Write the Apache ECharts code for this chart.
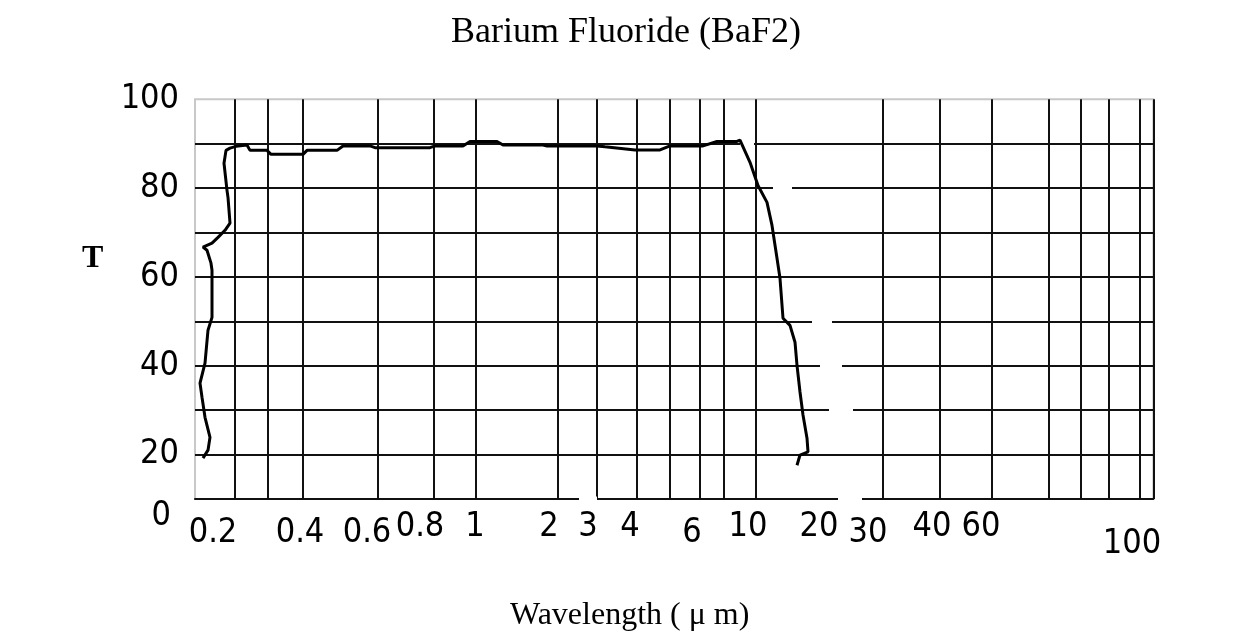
<!DOCTYPE html>
<html><head><meta charset="utf-8">
<script src="https://cdn.jsdelivr.net/npm/echarts@6/dist/echarts.min.js"></script>
<style>html,body{margin:0;padding:0;background:#fff}#c{width:1233px;height:638px}</style>
</head><body><div id="c"></div>
<script>
// The scanned wavelength axis is non-uniform: positions are in chart-scale units (0 = left edge).
const xGridLines = [40, 72.7, 107.3, 182.3, 238.3, 280.3, 362.3, 402, 441.7, 474.3, 505, 528.3, 561, 687.3, 745, 796.7, 853.3, 885.7, 914, 944.3, 958.3];
const xTickPos  = [18, 105, 172, 225, 280, 354, 393, 435, 497, 553, 624, 673, 737, 786, 937];
const xTickText = ['0.2','0.4','0.6','0.8','1','2','3','4','6','10','20','30','40','60','100'];
const yGridLines = [10, 20, 30, 40, 50, 60, 70, 80, 90];
const yTickVals = [100, 80, 60, 40, 20];
const yTickText = ['100', '80', '60', '40', '20'];
const yZeroVal = [10];
const yZeroText = ['0'];
// transmission curve (scale position, T %)
const curveX = [8,13,15,10,7,5,10,13,17,17,16,12,8,17,23,30,35,33,32,29,31,35,41,
  52,55,72,76,108,112,142,148,175,180,235,240,268,275,302,308,348,352,402,410,440,465,475,508,522,542,545,
  555,563,572,577,582,585,588,595,600,602,605,608,612,613,605,602];
const curveT = [19.2,21.0,23.9,28.4,32.9,36.1,40.6,48.0,50.9,61.5,63.1,66.0,66.7,67.6,68.9,70.5,72.1,77.9,79.5,85.6,88.5,89.0,89.4,
  89.7,88.5,88.5,87.6,87.6,88.5,88.5,89.5,89.5,89.1,89.1,89.5,89.5,90.5,90.5,89.7,89.7,89.5,89.5,89.3,88.6,88.6,89.5,89.5,90.5,90.5,90.8,
  85.8,80.6,76.8,71.6,64.2,59.7,50.7,49.1,45.3,40.1,34.1,28.9,23.7,20.6,19.9,17.6];
// breaks in the scanned grid lines: [level T, from, to]
const gridGapLevel = [90, 80, 50, 40, 30, 10, 10];
const gridGapFrom  = [545, 578, 617, 625, 634, 384, 643];
const gridGapTo    = [559, 597, 637, 647, 658, 402, 667];

// label rows (style only: vertical placement of each label in the scan)
const rowOf = {'0.2':1,'0.4':1,'0.6':1,'6':1,'30':1,'100':2};
const rowMargin = [11, 17, 28];
const labelFont = "'Liberation Sans Narrow','DejaVu Sans Condensed','Liberation Sans',sans-serif";
const serif = "'Liberation Serif','Times New Roman',serif";

const xMin = 0, xMax = 958.3;
function xAxisFor(row) {
  const vals = xTickPos.filter((p, i) => (rowOf[xTickText[i]] || 0) === row);
  return {
    type: 'value', min: xMin, max: xMax, position: 'bottom', offset: 0,
    axisLine: { show: row === 0, onZero: false, lineStyle: { color: '#111', width: 2 } },
    axisTick: { show: false, customValues: row === 0 ? xGridLines : vals },
    splitLine: { show: row === 0, lineStyle: { color: '#111', width: 2 } },
    axisLabel: {
      customValues: vals, margin: rowMargin[row], color: '#000',
      fontFamily: labelFont, fontSize: 34,
      formatter: v => xTickText[xTickPos.indexOf(v)]
    }
  };
}

const gapData = [];
gridGapLevel.forEach((t, i) => {
  gapData.push([gridGapFrom[i], t], [gridGapTo[i], t], [null, null]);
});

const chart = echarts.init(document.getElementById('c'));
chart.setOption({
  animation: false,
  backgroundColor: '#fff',
  title: [
    { text: 'Barium Fluoride (BaF2)', left: 446, top: 10,
      textStyle: { fontFamily: serif, fontSize: 36, fontWeight: 'normal', color: '#000' } },
    { text: 'T', left: 77, top: 238,
      textStyle: { fontFamily: serif, fontSize: 32, fontWeight: 'bold', color: '#000' } },
    { text: 'Wavelength ( \u03bc m)', left: 505, top: 595,
      textStyle: { fontFamily: serif, fontSize: 32, fontWeight: 'normal', color: '#000' } }
  ],
  grid: { left: 195, right: 1233 - 1153.3, top: 99.3, bottom: 638 - 499, show: true, borderColor: '#c8c8c8', borderWidth: 2 },
  xAxis: [xAxisFor(0), xAxisFor(1), xAxisFor(2)],
  yAxis: [
    { type: 'value', min: 10, max: 100,
      axisLine: { show: false }, axisTick: { show: false, customValues: yGridLines },
      splitLine: { show: true, lineStyle: { color: '#111', width: 2 } },
      axisLabel: { customValues: yTickVals, margin: 16, color: '#000', fontFamily: labelFont, fontSize: 34,
        formatter: v => yTickText[yTickVals.indexOf(v)] } },
    { type: 'value', min: 10, max: 100, position: 'left',
      axisLine: { show: false }, axisTick: { show: false }, splitLine: { show: false },
      axisLabel: { customValues: yZeroVal, margin: 24, color: '#000', fontFamily: labelFont, fontSize: 34, verticalAlign: 'top',
        formatter: v => yZeroText[yZeroVal.indexOf(v)] } }
  ],
  series: [
    { type: 'line', xAxisIndex: 0, yAxisIndex: 0, data: gapData, connectNulls: false,
      symbol: 'none', clip: false, silent: true, z: 3,
      lineStyle: { color: '#fff', width: 5, cap: 'butt' } },
    { type: 'line', xAxisIndex: 0, yAxisIndex: 0, z: 5,
      data: curveX.map((x, i) => [x, curveT[i]]),
      symbol: 'none', smooth: false,
      lineStyle: { color: '#000', width: 3 } }
  ]
});
</script></body></html>
